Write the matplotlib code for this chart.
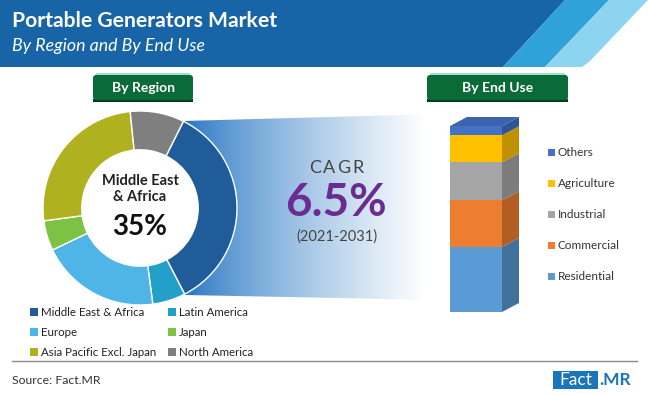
import numpy as np
import matplotlib
matplotlib.use("Agg")
import matplotlib.pyplot as plt
from matplotlib.patches import Polygon, Rectangle, FancyBboxPatch, Circle

# ---------------- data ----------------
regions = ["Middle East & Africa", "Latin America", "Europe", "Japan",
           "Asia Pacific Excl. Japan", "North America"]
region_share = [35, 5.5, 20, 5, 25.5, 9]
region_colors = ["#1f5c99", "#22a0c9", "#4fb4e6", "#7cc243", "#b0b11f", "#7f7f7f"]

end_use = ["Residential", "Commercial", "Industrial", "Agriculture", "Others"]
end_share = [35, 25, 20.5, 14.5, 5]
end_colors = ["#5b9bd5", "#ed7d31", "#a5a5a5", "#ffc000", "#4472c4"]
end_side_colors = ["#41719c", "#b25d22", "#7c7c7c", "#bf9000", "#2f5597"]

highlight_region = "Middle East\n& Africa"
highlight_value = "35%"
cagr_label = "CAGR"
cagr_value = "6.5%"
cagr_period = "(2021-2031)"

FONT = "Lato"
W, H = 650, 395
fig = plt.figure(figsize=(W / 100, H / 100), dpi=100)
bg = fig.add_axes([0, 0, 1, 1])
bg.set_xlim(0, W)
bg.set_ylim(H, 0)
bg.axis("off")

# ---------------- header ----------------
bg.add_patch(Polygon([(0, 0), (565, 0), (503, 67), (0, 67)], closed=True,
                     color="#1765a6", lw=0))
bg.add_patch(Polygon([(565, 0), (609, 0), (545, 67), (503, 67)], closed=True,
                     color="#2fa2d9", lw=0))
bg.add_patch(Polygon([(609, 0), (648, 0), (590, 61), (582, 67), (545, 67)],
                     closed=True, color="#8dd4f1", lw=0))
bg.text(12, 21, "Portable Generators Market", color="white", fontsize=15.2,
        fontweight="bold", family=FONT, va="center", ha="left")
bg.text(12, 46, "By Region and By End Use", color="white", fontsize=12.8,
        style="italic", family=FONT, va="center", ha="left")

# ---------------- green tabs ----------------
def tab(x0, x1, label):
    bg.add_patch(Rectangle((x0, 99), x1 - x0, 3, color="#063d20", lw=0))
    bg.add_patch(FancyBboxPatch((x0, 75), x1 - x0, 25,
                                boxstyle="round,pad=0,rounding_size=3",
                                color="#0b6b38", lw=0))
    bg.add_patch(Rectangle((x0 + 3, 72.5), x1 - x0 - 6, 2.5, color="#9fe3c8", lw=0))
    bg.text((x0 + x1) / 2, 87.5, label, color="white", fontsize=10,
            fontweight="bold", family=FONT, ha="center", va="center")

tab(93, 193, "By Region")
tab(427, 568, "By End Use")

# ---------------- gradient funnel ----------------
poly = Polygon([(150, 122), (183, 121), (440, 114), (440, 300), (185, 295), (150, 295)],
               closed=True, facecolor="none", edgecolor="none")
bg.add_patch(poly)
xs = np.linspace(150, 440, 300)
t = np.clip((xs - 185) / (425 - 185), 0, 1) ** 0.75
c0 = np.array([0.13, 0.45, 0.76])
rgb = c0[None, :] * (1 - t[:, None]) + np.ones(3)[None, :] * t[:, None]
img = np.tile(rgb[None, :, :], (10, 1, 1))
im = bg.imshow(img, extent=(150, 440, 300, 110), aspect="auto", zorder=1)
im.set_clip_path(poly)

for k, ch in enumerate(cagr_label):
    bg.text(315 + k * 14.3, 168, ch, color="#444444", fontsize=13, family=FONT,
            ha="center", va="center")
bg.text(336, 203, cagr_value, color="#6b2c91", fontsize=33, fontweight="bold",
        family=FONT, ha="center", va="center")
bg.text(337, 237, cagr_period, color="#444444", fontsize=10.5, family=FONT,
        ha="center", va="center")

# ---------------- donut ----------------
cx, cy, R = 140, 208, 97
dax = fig.add_axes([(cx - R) / W, (H - cy - R) / H, 2 * R / W, 2 * R / H])
dax.add_patch(Circle((0, 0), 0.62, color="white", lw=0, zorder=0))
dax.pie(region_share, colors=region_colors, startangle=63.4, counterclock=False,
        radius=1, wedgeprops=dict(width=0.4, edgecolor="white", linewidth=1))
dax.set_xlim(-1, 1)
dax.set_ylim(-1, 1)
dax.set_aspect("auto")
dax.axis("off")
dax.text(0, (cy - 189) / R, highlight_region, color="#222222", fontsize=10.5,
         fontweight="bold", family=FONT, ha="center", va="center",
         linespacing=1.25, zorder=10)
dax.text(0, (cy - 227) / R, highlight_value, color="#111111", fontsize=20,
         fontweight="bold", family=FONT, ha="center", va="center", zorder=10)

# region legend
for i, (name, col) in enumerate(zip(regions, region_colors)):
    row, colm = i // 2, i % 2
    x = 30 if colm == 0 else 168
    y = 312 + row * 20
    bg.add_patch(Rectangle((x, y - 4), 8, 8, color=col, lw=0))
    bg.text(x + 11, y, name, color="#222222", fontsize=8.3, family=FONT,
            ha="left", va="center")

# ---------------- 3D stacked bar ----------------
px_per_unit_y = 186 / 100.0
bax = fig.add_axes([450 / W, (H - 312) / H, 104 / W, 110 * px_per_unit_y / H])
bax.set_xlim(-0.5, 1.5)
bax.set_ylim(0, 110)
bax.axis("off")
bottoms = np.concatenate([[0], np.cumsum(end_share)[:-1]])
bax.bar([0] * len(end_share), end_share, bottom=bottoms, width=1.0,
        color=end_colors, linewidth=0)
dx, dy = 17 / 52.0, 9 / px_per_unit_y
for b, h, sc in zip(bottoms, end_share, end_side_colors):
    bax.add_patch(Polygon([(0.5, b), (0.5 + dx, b + dy), (0.5 + dx, b + h + dy), (0.5, b + h)],
                          closed=True, color=sc, lw=0))
top = float(np.sum(end_share))
bax.add_patch(Polygon([(-0.5, top), (0.5, top), (0.5 + dx, top + dy), (-0.5 + dx, top + dy)],
                      closed=True, color="#3b62ad", lw=0))

# end use legend (top to bottom: Others ... Residential)
for j, (name, col) in enumerate(zip(end_use[::-1], end_colors[::-1])):
    y = 152 + j * 31.2
    bg.add_patch(Rectangle((548, y - 3.5), 7, 7, color=col, lw=0))
    bg.text(558, y, name, color="#333333", fontsize=8.5, family=FONT,
            ha="left", va="center")

# ---------------- footer ----------------
bg.plot([12, 637], [361, 361], color="#8a8a8a", lw=1)
bg.text(12, 380, "Source: Fact.MR", color="#333333", fontsize=8.8, family=FONT,
        ha="left", va="center")
bg.add_patch(Rectangle((553, 371), 45, 18, color="#1b75bb", lw=0))
bg.text(575.5, 380, "Fact", color="white", fontsize=12.5, family=FONT,
        ha="center", va="center")
bg.text(599, 380, ".MR", color="#1b75bb", fontsize=12.5, fontweight="bold",
        family=FONT, ha="left", va="center")

fig.savefig("out.png", dpi=100)
